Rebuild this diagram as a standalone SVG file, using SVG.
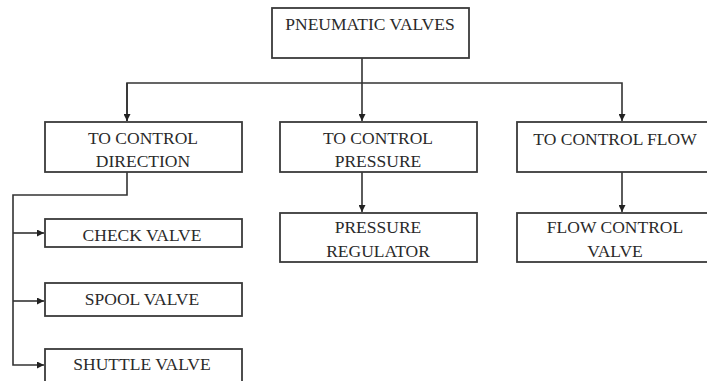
<svg xmlns="http://www.w3.org/2000/svg" width="707" height="381" viewBox="0 0 707 381">
<style>
.box{fill:#fff;stroke:#3a3a3a;stroke-width:1.8}
.ln{fill:none;stroke:#333;stroke-width:1.6}
.t{font-family:'Liberation Serif','DejaVu Serif',serif;font-size:17.5px;fill:#2a2a2a;text-anchor:middle}
</style>
<defs>
<marker id="ah" viewBox="0 0 10 10" refX="10" refY="5" markerWidth="7" markerHeight="7" markerUnits="userSpaceOnUse" orient="auto">
<path d="M0,0 L10,5 L0,10 Z" fill="#222"/>
</marker>
</defs>
<rect width="707" height="381" fill="#fff"/>
<g id="connectors">
<path class="ln" d="M362,58 V121" marker-end="url(#ah)"/>
<path class="ln" d="M127,121 V83 H622 V121" marker-end="url(#ah)"/>
<path class="ln" d="M127,83 V121" marker-end="url(#ah)"/>
<path class="ln" d="M362,172 V212" marker-end="url(#ah)"/>
<path class="ln" d="M622,172 V212" marker-end="url(#ah)"/>
<path class="ln" d="M127,172 V195 H13 V365 H44" marker-end="url(#ah)"/>
<path class="ln" d="M13,233 H44" marker-end="url(#ah)"/>
<path class="ln" d="M13,301 H44" marker-end="url(#ah)"/>
</g>
<g id="pneumatic-valves">
<rect class="box" x="272" y="8" width="197" height="50"/>
<text class="t" x="370" y="30" font-family="Liberation Serif, serif">PNEUMATIC VALVES</text>
</g>
<g id="control-direction">
<rect class="box" x="45" y="122" width="197" height="50"/>
<text class="t" x="143" y="144" font-family="Liberation Serif, serif">TO CONTROL</text>
<text class="t" x="143" y="167" font-family="Liberation Serif, serif">DIRECTION</text>
</g>
<g id="control-pressure">
<rect class="box" x="280" y="122" width="197" height="50"/>
<text class="t" x="378" y="144" font-family="Liberation Serif, serif">TO CONTROL</text>
<text class="t" x="378" y="167" font-family="Liberation Serif, serif">PRESSURE</text>
</g>
<g id="control-flow">
<rect class="box" x="517" y="122" width="192" height="50"/>
<text class="t" x="615" y="145" font-family="Liberation Serif, serif">TO CONTROL FLOW</text>
</g>
<g id="check-valve">
<rect class="box" x="45" y="219" width="197" height="28"/>
<text class="t" x="142" y="241" font-family="Liberation Serif, serif">CHECK VALVE</text>
</g>
<g id="spool-valve">
<rect class="box" x="45" y="283" width="197" height="33"/>
<text class="t" x="142" y="305" font-family="Liberation Serif, serif">SPOOL VALVE</text>
</g>
<g id="shuttle-valve">
<rect class="box" x="45" y="349" width="197" height="40"/>
<text class="t" x="142" y="370" font-family="Liberation Serif, serif">SHUTTLE VALVE</text>
</g>
<g id="pressure-regulator">
<rect class="box" x="280" y="213" width="197" height="49"/>
<text class="t" x="378" y="233" font-family="Liberation Serif, serif">PRESSURE</text>
<text class="t" x="378" y="257" font-family="Liberation Serif, serif">REGULATOR</text>
</g>
<g id="flow-control-valve">
<rect class="box" x="517" y="213" width="192" height="49"/>
<text class="t" x="615" y="233" font-family="Liberation Serif, serif">FLOW CONTROL</text>
<text class="t" x="615" y="257" font-family="Liberation Serif, serif">VALVE</text>
</g>
</svg>
